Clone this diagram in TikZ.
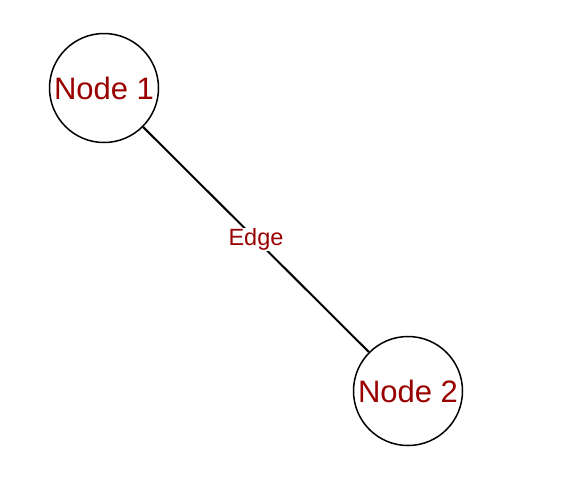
\documentclass[tikz,border=0pt]{standalone}
\usepackage{fontspec}
\setmainfont{Liberation Sans}
\definecolor{labelred}{RGB}{153,0,0}
\begin{document}
\begin{tikzpicture}[x=1pt,y=-1pt,
  vertex/.style={circle,draw=black,line width=1.5pt,minimum size=109pt,inner sep=0pt,
    text=labelred,font=\fontsize{31}{35}\selectfont},
  link/.style={draw=black,line width=2pt},
  linklabel/.style={fill=white,text=labelred,inner sep=1pt,font=\fontsize{23.5}{27}\selectfont}]
  \useasboundingbox (0,0) rectangle (577,483);
  \node[vertex] (n1) at (104,88) {Node 1};
  \node[vertex] (n2) at (408,391) {Node 2};
  \draw[link] (n1) -- node[linklabel] (e) {Edge} (n2);
\end{tikzpicture}
\end{document}
